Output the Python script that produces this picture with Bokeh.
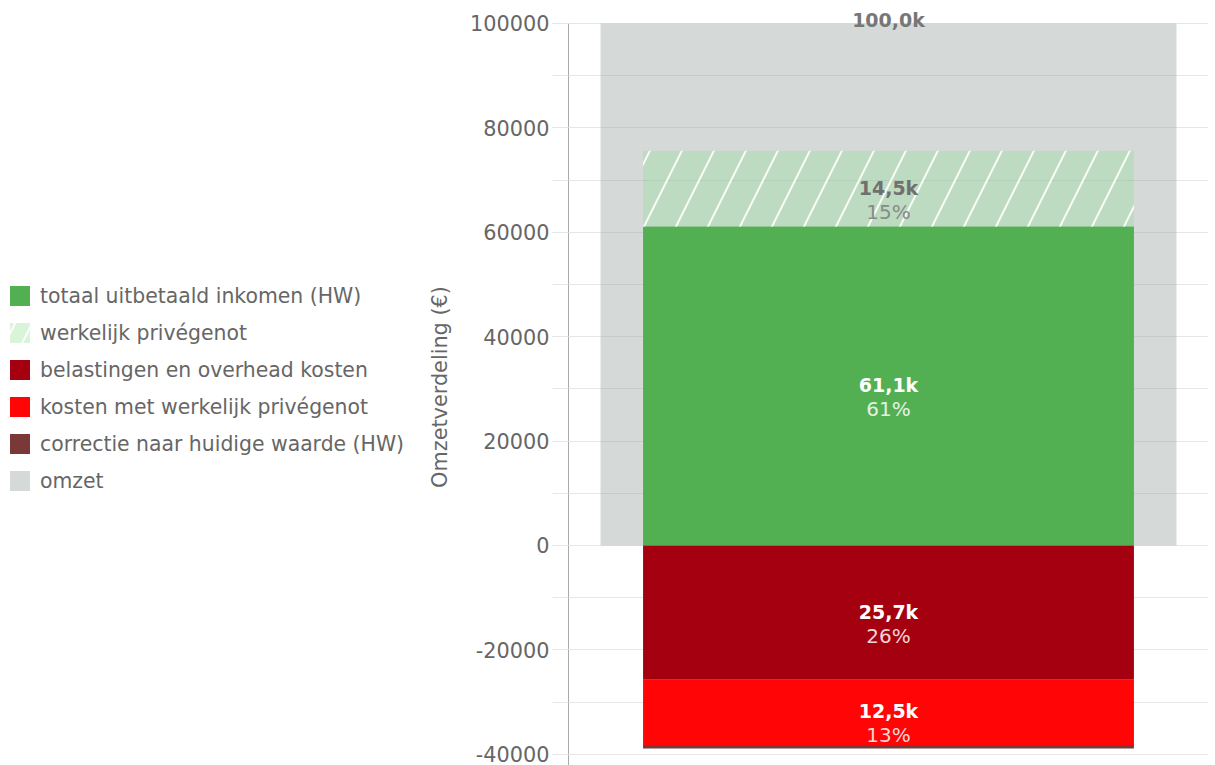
from bokeh.plotting import figure
from bokeh.layouts import row
from bokeh.models import (ColumnDataSource, FactorRange, Range1d, SingleIntervalTicker,
                          Legend, LegendItem, LabelSet, Label, CustomJSTickFormatter,
                          BoxAnnotation)
from bokeh.core.properties import value
from bokeh.embed import file_html
from bokeh.resources import INLINE

# ---- data ----
category = ["Omzet"]
omzet = 100000
series_names = ["totaal uitbetaald inkomen (HW)", "werkelijk privégenot",
                "belastingen en overhead kosten", "kosten met werkelijk privégenot",
                "correctie naar huidige waarde (HW)", "omzet"]
positive_values = [61100, 14500]            # inkomen, privégenot
negative_values = [25700, 12500, 700]       # belasting, kosten, correctie
y_ticks_interval = 20000
colors_pos = ["#52b052", "#8cdc8c"]
colors_neg = ["#a5000f", "#ff0505", "#7a3838"]
omzet_color = "#9aa8a4"

FONT = "DejaVu Sans"
LEG_W = 420
TOTAL_W = 1208
H = 765

y_top, y_bottom = 102870, -42150

p = figure(x_range=FactorRange(*category), y_range=Range1d(y_bottom, y_top),
           width=TOTAL_W - LEG_W, height=H, output_backend="svg", toolbar_location=None,
           min_border_top=8, min_border_bottom=0, min_border_right=0,
           min_border_left=568 - LEG_W)

p.outline_line_color = None
p.xaxis.visible = False
p.xgrid.visible = False

# plot border from the top tick down (light grey)
p.add_layout(BoxAnnotation(left=0, right=1, top=omzet, bottom=y_bottom,
                           fill_color=None, line_color="#e6e6e6", line_width=1,
                           level="underlay"))

yt = SingleIntervalTicker(interval=y_ticks_interval, num_minor_ticks=2)
p.yaxis.ticker = yt
p.ygrid.ticker = yt
p.ygrid.grid_line_color = "#e6e6e6"
p.ygrid.minor_grid_line_color = "#e6e6e6"
ax = p.yaxis[0]
ax.bounds = (y_bottom, omzet)
ax.formatter = CustomJSTickFormatter(code="return tick.toFixed(0);")
ax.axis_line_color = "#aaaaaa"
ax.major_tick_line_color = "#e6e6e6"
ax.minor_tick_line_color = "#e6e6e6"
ax.major_tick_out = 16
ax.major_tick_in = 0
ax.minor_tick_out = 16
ax.minor_tick_in = 0
ax.major_label_standoff = 3
ax.major_label_text_font = FONT
ax.major_label_text_font_size = "20.8px"
ax.major_label_text_color = "#666666"
ax.axis_label = "Omzetverdeling (€)"
ax.axis_label_text_font = FONT
ax.axis_label_text_font_size = "20.8px"
ax.axis_label_text_font_style = "normal"
ax.axis_label_text_color = "#666666"
ax.axis_label_standoff = 15

# omzet bar
p.vbar(x=category, top=[omzet], bottom=[0], width=0.9,
       fill_color=omzet_color, fill_alpha=0.42, line_color=None)

hatch_kw = dict(fill_alpha=0.32, hatch_pattern="/", hatch_color="white",
                hatch_weight=2, hatch_scale=64, hatch_alpha=0.9)

# positive stack
bottom = 0
for i, v in enumerate(positive_values):
    kw = dict(fill_color=colors_pos[i], line_color=None)
    if i == 1:
        kw.update(hatch_kw)
    p.vbar(x=category, bottom=[bottom], top=[bottom + v], width=0.767, **kw)
    bottom += v

# negative stack
top = 0
for i, v in enumerate(negative_values):
    p.vbar(x=category, top=[top], bottom=[top - v], width=0.767,
           fill_color=colors_neg[i], line_color=None)
    top -= v

# value labels
def fmt_k(v):
    return f"{v/1000:.1f}k".replace(".", ",")

def fmt_pct(v):
    return f"{(v * 100 + omzet // 2) // omzet}%"

lab_vals, lab_pcts, lab_y, lab_col, pct_col = [], [], [], [], []
b = 0
for i, v in enumerate(positive_values):
    lab_vals.append(fmt_k(v)); lab_pcts.append(fmt_pct(v)); lab_y.append(b + v / 2)
    lab_col.append("white" if i == 0 else "#707070")
    pct_col.append("#e4f2e4" if i == 0 else "#8a8a8a")
    b += v
t = 0
for i, v in enumerate(negative_values[:2]):
    lab_vals.append(fmt_k(v)); lab_pcts.append(fmt_pct(v)); lab_y.append(t - v / 2)
    lab_col.append("white"); pct_col.append("#f4d4d4")
    t -= v

src = ColumnDataSource(dict(x=[category[0]] * len(lab_vals), y=lab_y, val=lab_vals,
                            pct=lab_pcts, c=lab_col, pc=pct_col))
p.add_layout(LabelSet(x="x", y="y", text="val", source=src, text_align="center",
                      text_baseline="middle", text_font=value(FONT), text_font_size=value("19px"),
                      text_font_style=value("bold"), text_color="c", y_offset=1))
p.add_layout(LabelSet(x="x", y="y", text="pct", source=src, text_align="center",
                      text_baseline="middle", text_font=value(FONT), text_font_size=value("20px"),
                      text_color="pc", y_offset=-23))
p.add_layout(Label(x=0.5, y=omzet, text=fmt_k(omzet), text_align="center",
                   text_baseline="middle", text_font=FONT, text_font_size="19px",
                   text_font_style="bold", text_color="#777777", y_offset=3))

# ---- legend panel (separate figure, invisible zero-height proxy renderers) ----
pl = figure(width=LEG_W, height=H, output_backend="svg", toolbar_location=None,
            x_range=Range1d(0, 1), y_range=Range1d(0, 1),
            min_border=0, outline_line_color=None)
pl.axis.visible = False
pl.grid.visible = False
leg_colors = [colors_pos[0], colors_pos[1], colors_neg[0], colors_neg[1], colors_neg[2], omzet_color]
leg_rends = []
for i, c in enumerate(leg_colors):
    kw = dict(fill_color=c, line_color=None)
    if i == 1:
        kw.update(hatch_kw)
        kw["hatch_scale"] = 34
    if i == 5:
        kw["fill_alpha"] = 0.42
    leg_rends.append(pl.vbar(x=[0], top=[0], bottom=[0], width=0, **kw))

legend = Legend(items=[LegendItem(label=n, renderers=[r]) for n, r in zip(series_names, leg_rends)],
                location=(7, 272))
legend.label_text_font = FONT
legend.label_text_font_size = "20.4px"
legend.label_text_color = "#666666"
legend.glyph_width = 25
legend.glyph_height = 25
legend.label_height = 20
legend.label_standoff = 8
legend.spacing = 12
legend.padding = 5
legend.margin = 0
legend.border_line_color = None
legend.background_fill_color = None
pl.add_layout(legend)

layout = row(pl, p, spacing=0)
open("out.html", "w").write(file_html(layout, INLINE))
